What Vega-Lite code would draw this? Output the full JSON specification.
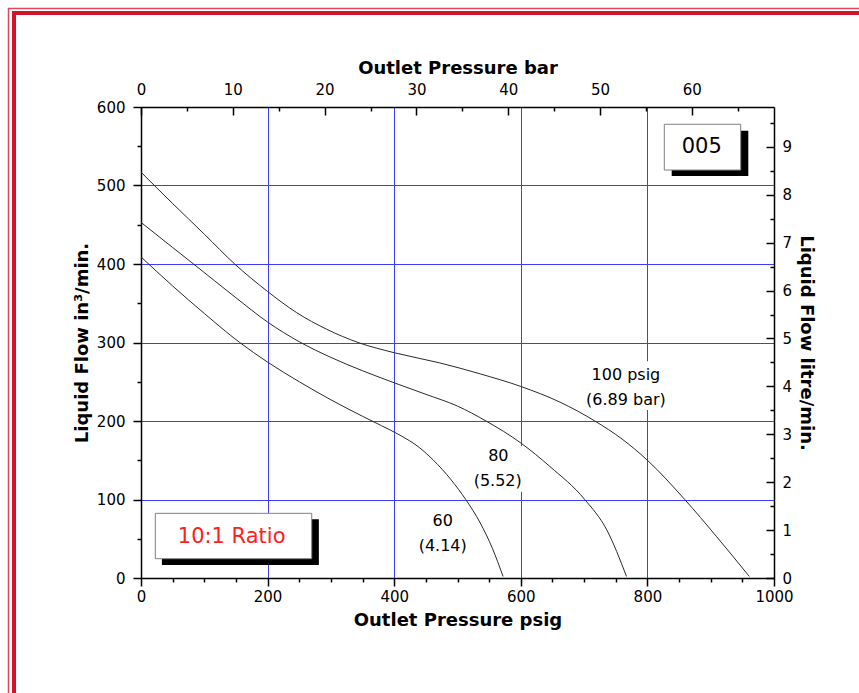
{
  "$schema": "https://vega.github.io/schema/vega-lite/v6.json",
  "width": 633,
  "height": 471,
  "autosize": {"type": "none"},
  "padding": {"left": 141, "top": 107, "right": 85, "bottom": 115},
  "background": "white",
  "config": {
    "view": {"stroke": null},
    "axis": {
      "labelFont": "DejaVu Sans", "labelFontSize": 15, "labelColor": "#000",
      "titleFont": "DejaVu Sans", "titleFontSize": 18, "titleFontWeight": "bold", "titleColor": "#000",
      "domainColor": "#000", "domainWidth": 1.5, "tickColor": "#000", "tickWidth": 1.5,
      "grid": false, "labelFlush": false, "labelOverlap": false, "labelBound": false
    }
  },
  "datasets": {
    "curves": [
      {"series": "100", "psig": 0, "flow": 517},
      {"series": "100", "psig": 50, "flow": 477},
      {"series": "100", "psig": 100, "flow": 438},
      {"series": "100", "psig": 148, "flow": 400},
      {"series": "100", "psig": 200, "flow": 365},
      {"series": "100", "psig": 246, "flow": 338},
      {"series": "100", "psig": 293, "flow": 317},
      {"series": "100", "psig": 343, "flow": 300},
      {"series": "100", "psig": 400, "flow": 287},
      {"series": "100", "psig": 472, "flow": 274},
      {"series": "100", "psig": 536, "flow": 260},
      {"series": "100", "psig": 600, "flow": 244},
      {"series": "100", "psig": 662, "flow": 224},
      {"series": "100", "psig": 717, "flow": 200},
      {"series": "100", "psig": 760, "flow": 177},
      {"series": "100", "psig": 800, "flow": 150},
      {"series": "100", "psig": 859, "flow": 100},
      {"series": "100", "psig": 909, "flow": 53},
      {"series": "100", "psig": 961, "flow": 2},
      {"series": "80", "psig": 0, "flow": 453},
      {"series": "80", "psig": 50, "flow": 421},
      {"series": "80", "psig": 83, "flow": 400},
      {"series": "80", "psig": 150, "flow": 357},
      {"series": "80", "psig": 200, "flow": 326},
      {"series": "80", "psig": 250, "flow": 301},
      {"series": "80", "psig": 300, "flow": 281},
      {"series": "80", "psig": 350, "flow": 264},
      {"series": "80", "psig": 409, "flow": 246},
      {"series": "80", "psig": 450, "flow": 234},
      {"series": "80", "psig": 500, "flow": 219},
      {"series": "80", "psig": 545, "flow": 200},
      {"series": "80", "psig": 600, "flow": 172},
      {"series": "80", "psig": 646, "flow": 142},
      {"series": "80", "psig": 701, "flow": 100},
      {"series": "80", "psig": 736, "flow": 61},
      {"series": "80", "psig": 767, "flow": 2},
      {"series": "60", "psig": 0, "flow": 409},
      {"series": "60", "psig": 50, "flow": 372},
      {"series": "60", "psig": 100, "flow": 337},
      {"series": "60", "psig": 156, "flow": 300},
      {"series": "60", "psig": 200, "flow": 275},
      {"series": "60", "psig": 250, "flow": 250},
      {"series": "60", "psig": 300, "flow": 227},
      {"series": "60", "psig": 350, "flow": 206},
      {"series": "60", "psig": 380, "flow": 194},
      {"series": "60", "psig": 409, "flow": 182},
      {"series": "60", "psig": 440, "flow": 166},
      {"series": "60", "psig": 462, "flow": 150},
      {"series": "60", "psig": 490, "flow": 125},
      {"series": "60", "psig": 513, "flow": 100},
      {"series": "60", "psig": 536, "flow": 70},
      {"series": "60", "psig": 555, "flow": 38},
      {"series": "60", "psig": 572, "flow": 2}
    ],
    "labels": [
      {"text": "100 psig", "psig": 766, "flow": 258.6},
      {"text": "(6.89 bar)", "psig": 766, "flow": 226.8},
      {"text": "80", "psig": 564.5, "flow": 155.4},
      {"text": "(5.52)", "psig": 563.5, "flow": 124},
      {"text": "60", "psig": 476.6, "flow": 73},
      {"text": "(4.14)", "psig": 476.6, "flow": 40.8}
    ]
  },
  "layer": [
    {
      "layer": [
        {
          "data": {"values": [{}]},
          "mark": {"type": "rect", "filled": false, "stroke": "#dc4a5c", "strokeWidth": 1.5, "clip": false},
          "encoding": {
            "x": {"datum": -209.3, "type": "quantitative", "scale": {"domain": [0, 1000], "nice": false, "zero": false}, "axis": null},
            "x2": {"datum": 1300},
            "y": {"datum": 725.5, "type": "quantitative", "scale": {"domain": [0, 600], "nice": false, "zero": false}, "axis": null},
            "y2": {"datum": -260}
          }
        },
        {
          "data": {"values": [{}]},
          "mark": {"type": "rect", "filled": false, "stroke": "#d3122b", "strokeWidth": 4, "clip": false},
          "encoding": {
            "x": {"datum": -200.6, "type": "quantitative", "scale": {"domain": [0, 1000], "nice": false, "zero": false}, "axis": null},
            "x2": {"datum": 1300},
            "y": {"datum": 719.7, "type": "quantitative", "scale": {"domain": [0, 600], "nice": false, "zero": false}, "axis": null},
            "y2": {"datum": -260}
          }
        },
        {
          "data": {"values": [{}]},
          "mark": {"type": "point", "opacity": 0},
          "encoding": {
            "x": {"datum": 0, "type": "quantitative", "scale": {"domain": [0, 1000], "nice": false, "zero": false},
              "axis": {"orient": "bottom", "values": [200, 400, 600, 800], "grid": true, "gridColor": "#3c3cff", "gridWidth": 1, "ticks": false, "labels": false, "domain": false, "title": null}},
            "y": {"datum": 0, "type": "quantitative", "scale": {"domain": [0, 600], "nice": false, "zero": false},
              "axis": {"orient": "left", "values": [100, 200, 300, 400, 500], "grid": true, "gridColor": "#3c3cff", "gridWidth": 1, "ticks": false, "labels": false, "domain": false, "title": null}}
          }
        },
        {
          "data": {"values": [{}]},
          "mark": {"type": "point", "opacity": 0},
          "encoding": {
            "x": {"datum": 0, "type": "quantitative", "scale": {"domain": [0, 1000], "nice": false, "zero": false},
              "axis": {"orient": "bottom", "values": [50, 100, 150, 250, 300, 350, 450, 500, 550, 650, 700, 750, 850, 900, 950], "tickSize": 4, "labels": false, "domain": false, "title": null}},
            "y": {"datum": 0, "type": "quantitative", "scale": {"domain": [0, 600], "nice": false, "zero": false},
              "axis": {"orient": "left", "values": [50, 150, 250, 350, 450, 550], "tickSize": 4, "labels": false, "domain": false, "title": null}}
          }
        },
        {
          "data": {"values": [{}]},
          "mark": {"type": "rect", "fill": "white"},
          "encoding": {
            "x": {"datum": 700, "type": "quantitative", "scale": {"domain": [0, 1000], "nice": false, "zero": false}, "axis": null},
            "x2": {"datum": 832},
            "y": {"datum": 214, "type": "quantitative", "scale": {"domain": [0, 600], "nice": false, "zero": false}, "axis": null},
            "y2": {"datum": 276}
          }
        },
        {
          "data": {"values": [{}]},
          "mark": {"type": "rect", "fill": "white"},
          "encoding": {
            "x": {"datum": 524, "type": "quantitative", "scale": {"domain": [0, 1000], "nice": false, "zero": false}, "axis": null},
            "x2": {"datum": 603},
            "y": {"datum": 110, "type": "quantitative", "scale": {"domain": [0, 600], "nice": false, "zero": false}, "axis": null},
            "y2": {"datum": 168}
          }
        },
        {
          "data": {"name": "curves"},
          "mark": {"type": "line", "color": "#2a2a2a", "strokeWidth": 1, "interpolate": "monotone"},
          "encoding": {
            "x": {"field": "psig", "type": "quantitative", "scale": {"domain": [0, 1000], "nice": false, "zero": false},
              "axis": {"orient": "bottom", "values": [0, 200, 400, 600, 800, 1000], "format": "d", "tickSize": 8, "labelPadding": 3, "title": "Outlet Pressure psig", "titlePadding": 7}},
            "y": {"field": "flow", "type": "quantitative", "scale": {"domain": [0, 600], "nice": false, "zero": false},
              "axis": {"orient": "left", "values": [0, 100, 200, 300, 400, 500, 600], "format": "d", "tickSize": 8, "labelPadding": 8, "title": "Liquid Flow in³/min.", "titlePadding": 5}},
            "detail": {"field": "series", "type": "nominal"}
          }
        },
        {
          "data": {"name": "labels"},
          "mark": {"type": "text", "font": "DejaVu Sans", "fontSize": 16, "color": "#000", "align": "center", "baseline": "middle"},
          "encoding": {
            "x": {"field": "psig", "type": "quantitative", "scale": {"domain": [0, 1000], "nice": false, "zero": false}, "axis": null},
            "y": {"field": "flow", "type": "quantitative", "scale": {"domain": [0, 600], "nice": false, "zero": false}, "axis": null},
            "text": {"field": "text"}
          }
        },
        {
          "data": {"values": [{}]},
          "mark": {"type": "rect", "fill": "#000"},
          "encoding": {
            "x": {"datum": 33, "type": "quantitative", "scale": {"domain": [0, 1000], "nice": false, "zero": false}, "axis": null},
            "x2": {"datum": 281},
            "y": {"datum": 16.6, "type": "quantitative", "scale": {"domain": [0, 600], "nice": false, "zero": false}, "axis": null},
            "y2": {"datum": 75}
          }
        },
        {
          "data": {"values": [{}]},
          "mark": {"type": "rect", "fill": "white", "stroke": "#808080", "strokeWidth": 1},
          "encoding": {
            "x": {"datum": 22.6, "type": "quantitative", "scale": {"domain": [0, 1000], "nice": false, "zero": false}, "axis": null},
            "x2": {"datum": 269.7},
            "y": {"datum": 24.6, "type": "quantitative", "scale": {"domain": [0, 600], "nice": false, "zero": false}, "axis": null},
            "y2": {"datum": 82.4}
          }
        },
        {
          "data": {"values": [{}]},
          "mark": {"type": "text", "text": "10:1 Ratio", "font": "DejaVu Sans", "fontSize": 21, "color": "#ff2020", "align": "center", "baseline": "middle"},
          "encoding": {
            "x": {"datum": 143.2, "type": "quantitative", "scale": {"domain": [0, 1000], "nice": false, "zero": false}, "axis": null},
            "y": {"datum": 52.6, "type": "quantitative", "scale": {"domain": [0, 600], "nice": false, "zero": false}, "axis": null}
          }
        },
        {
          "data": {"values": [{}]},
          "mark": {"type": "rect", "fill": "#000"},
          "encoding": {
            "x": {"datum": 838.4, "type": "quantitative", "scale": {"domain": [0, 1000], "nice": false, "zero": false}, "axis": null},
            "x2": {"datum": 959.4},
            "y": {"datum": 512.1, "type": "quantitative", "scale": {"domain": [0, 600], "nice": false, "zero": false}, "axis": null},
            "y2": {"datum": 569.8}
          }
        },
        {
          "data": {"values": [{}]},
          "mark": {"type": "rect", "fill": "white", "stroke": "#808080", "strokeWidth": 1},
          "encoding": {
            "x": {"datum": 826.7, "type": "quantitative", "scale": {"domain": [0, 1000], "nice": false, "zero": false}, "axis": null},
            "x2": {"datum": 947.4},
            "y": {"datum": 519.7, "type": "quantitative", "scale": {"domain": [0, 600], "nice": false, "zero": false}, "axis": null},
            "y2": {"datum": 578}
          }
        },
        {
          "data": {"values": [{}]},
          "mark": {"type": "text", "text": "005", "font": "DejaVu Sans", "fontSize": 21, "color": "#000", "align": "center", "baseline": "middle"},
          "encoding": {
            "x": {"datum": 885.8, "type": "quantitative", "scale": {"domain": [0, 1000], "nice": false, "zero": false}, "axis": null},
            "y": {"datum": 549.4, "type": "quantitative", "scale": {"domain": [0, 600], "nice": false, "zero": false}, "axis": null}
          }
        }
      ],
      "resolve": {"axis": {"x": "independent", "y": "independent"}}
    },
    {
      "layer": [
        {
          "data": {"values": [{}]},
          "mark": {"type": "point", "opacity": 0},
          "encoding": {
            "x": {"datum": 0, "type": "quantitative", "scale": {"domain": [0, 68.9476], "nice": false, "zero": false},
              "axis": {"orient": "top", "values": [0, 10, 20, 30, 40, 50, 60], "tickSize": -8, "labelPadding": 18, "title": "Outlet Pressure bar", "titlePadding": 5}},
            "y": {"datum": 0, "type": "quantitative", "scale": {"domain": [0, 9.8322], "nice": false, "zero": false},
              "axis": {"orient": "right", "values": [0, 1, 2, 3, 4, 5, 6, 7, 8, 9], "tickSize": -8, "labelPadding": 16, "title": "Liquid Flow litre/min.", "titlePadding": 5}}
          }
        },
        {
          "data": {"values": [{}]},
          "mark": {"type": "point", "opacity": 0},
          "encoding": {
            "x": {"datum": 0, "type": "quantitative", "scale": {"domain": [0, 68.9476], "nice": false, "zero": false},
              "axis": {"orient": "top", "values": [5, 15, 25, 35, 45, 55, 65], "tickSize": -4, "labels": false, "domain": false, "title": null}},
            "y": {"datum": 0, "type": "quantitative", "scale": {"domain": [0, 9.8322], "nice": false, "zero": false},
              "axis": {"orient": "right", "values": [0.5, 1.5, 2.5, 3.5, 4.5, 5.5, 6.5, 7.5, 8.5, 9.5], "tickSize": -4, "labels": false, "domain": false, "title": null}}
          }
        }
      ],
      "resolve": {"axis": {"x": "independent", "y": "independent"}}
    }
  ],
  "resolve": {"scale": {"x": "independent", "y": "independent"}, "axis": {"x": "independent", "y": "independent"}}
}
